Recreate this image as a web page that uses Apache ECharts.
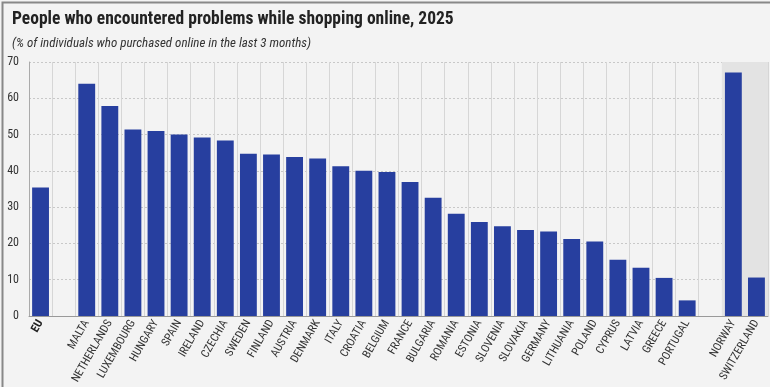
<!DOCTYPE html>
<html><head><meta charset="utf-8">
<script src="https://cdn.jsdelivr.net/npm/echarts@6/dist/echarts.min.js"></script>
<style>html,body{margin:0;padding:0;background:#f3f3f3}#c{width:770px;height:387px}</style>
</head><body><div id="c"></div>
<script>
const categories = ['EU','', 'MALTA','NETHERLANDS','LUXEMBOURG','HUNGARY','SPAIN','IRELAND','CZECHIA','SWEDEN','FINLAND','AUSTRIA','DENMARK','ITALY','CROATIA','BELGIUM','FRANCE','BULGARIA','ROMANIA','ESTONIA','SLOVENIA','SLOVAKIA','GERMANY','LITHUANIA','POLAND','CYPRUS','LATVIA','GREECE','PORTUGAL','', 'NORWAY','SWITZERLAND'];
const values = [35.4,null, 64.0,57.9,51.4,51.0,50.0,49.2,48.4,44.7,44.5,43.8,43.4,41.3,40.0,39.7,36.9,32.6,28.2,25.9,24.7,23.7,23.3,21.2,20.5,15.5,13.3,10.5,4.3,null, 67.1,10.6];
const nonEU = ['NORWAY','SWITZERLAND'];
const yTicks = [0,10,20,30,40,50,60,70];
const title = 'People who encountered problems while shopping online, 2025';
const subtitle = '(% of individuals who purchased online in the last 3 months)';

const yMax = yTicks[yTicks.length-1];
const nStart = categories.indexOf(nonEU[0]);
const nEnd = categories.indexOf(nonEU[nonEU.length-1]) + 1;
const chart = echarts.init(document.getElementById('c'), null, {renderer:'canvas'});
const font = '"Liberation Sans Narrow","Roboto Condensed","DejaVu Sans Condensed",sans-serif';
chart.setOption({
  backgroundColor:'#f3f3f3',
  animation:false,
  title:[
    {text:title,left:7,top:6,textStyle:{fontFamily:font,fontSize:17.5,fontWeight:'bold',color:'#222'}},
    {text:subtitle,left:7,top:32,textStyle:{fontFamily:font,fontSize:13,fontStyle:'italic',fontWeight:'normal',color:'#333'}}
  ],
  grid:{left:29,right:2,top:62,bottom:59},
  xAxis:[{type:'category',data:categories,
    axisLine:{lineStyle:{color:'#999'}},axisTick:{show:false},
    splitLine:{show:true,interval:0,lineStyle:{color:'#d6d6d6',width:1}},
    axisLabel:{interval:0,rotate:60,fontFamily:font,fontSize:11.5,color:'#333',margin:5,
      formatter:v=>v==='EU'?'{b|EU}':v,rich:{b:{fontWeight:'bold',fontFamily:font,fontSize:11.5,color:'#222'}}}},
    {type:'value',min:0,max:categories.length,show:false}],
  yAxis:{type:'value',min:0,max:yMax,interval:10,
    axisLine:{show:true,lineStyle:{color:'#aaa'}},axisTick:{show:false},
    axisLabel:{fontFamily:font,fontSize:12,color:'#333',margin:10},
    splitLine:{lineStyle:{color:'#c8c8c8',type:[2,2]}}},
  graphic:[{type:'rect',left:0,top:0,shape:{width:769,height:386},style:{fill:null,stroke:'#888',lineWidth:2},silent:true,z:100}],
  series:[
    {type:'line',xAxisIndex:1,data:[],z:1,
      markArea:{silent:true,itemStyle:{color:'#e3e3e3'},
        data:[[{xAxis:nStart,yAxis:0},{xAxis:nEnd,yAxis:yMax}]]}},
    {type:'bar',barWidth:'73%',z:2,itemStyle:{color:'#273f9f'},data:values}
  ]
});
</script></body></html>
